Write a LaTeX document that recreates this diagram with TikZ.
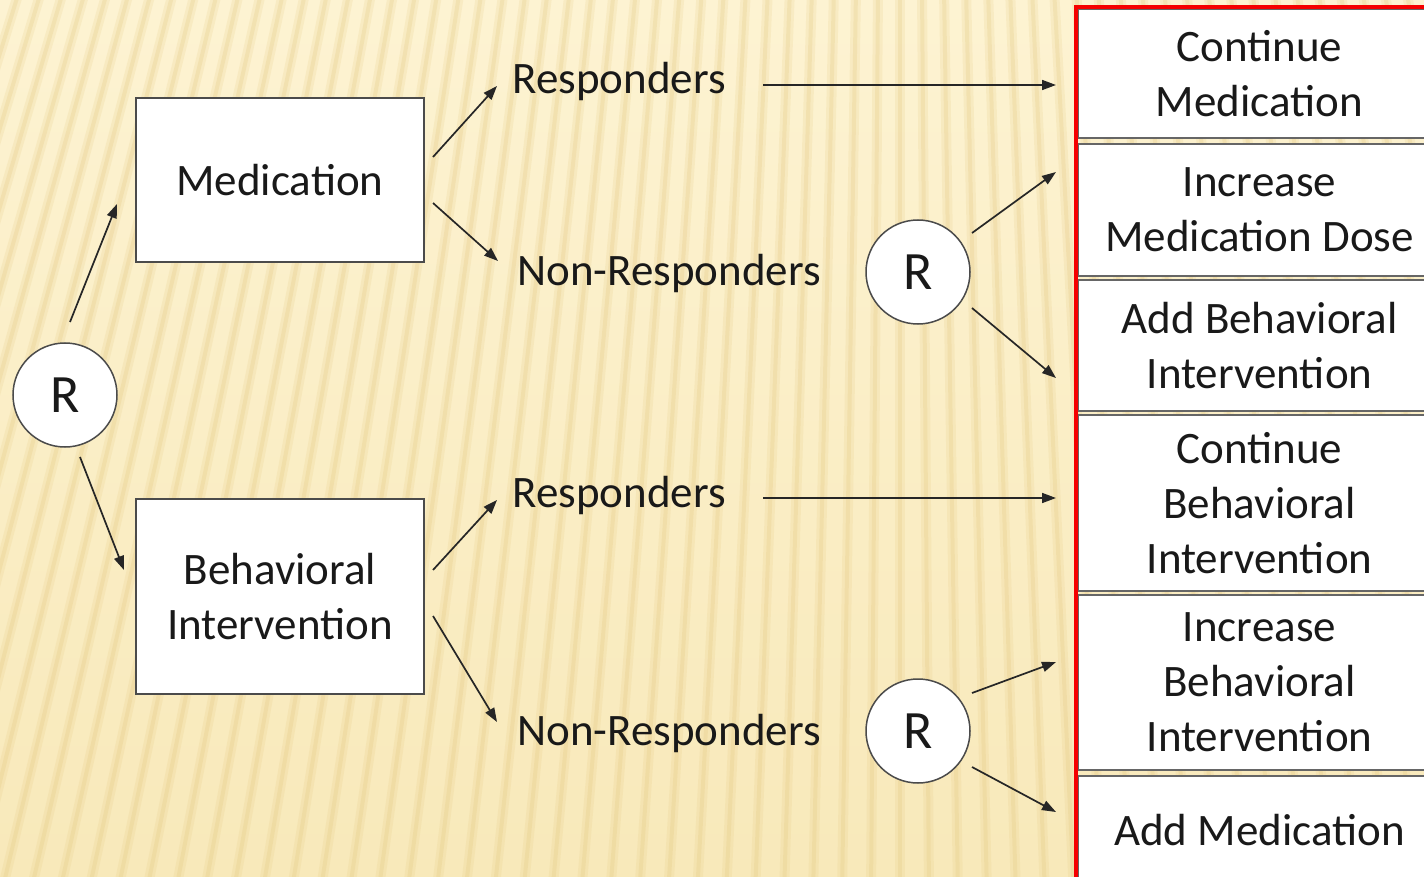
\documentclass[tikz,border=0pt]{standalone}
\usepackage{fontspec}
\setmainfont{Carlito}
\usetikzlibrary{arrows.meta}
\definecolor{bgtop}{RGB}{253,243,210}
\definecolor{bgbot}{RGB}{248,233,186}
\definecolor{stripe}{RGB}{228,200,128}
\definecolor{boxline}{RGB}{75,75,75}
\definecolor{txt}{RGB}{25,25,25}
\definecolor{selred}{RGB}{245,0,0}
\begin{document}
\begin{tikzpicture}[x=1pt,y=-1pt,
  lbl/.style={font=\fontsize{45}{55}\selectfont, text=txt, align=center, inner sep=0pt},
  lbox/.style={draw=boxline, line width=2pt, fill=white, lbl},
  rbox/.style={draw=boxline!85, line width=2pt, fill=white, lbl, minimum width=363pt, anchor=north west},
  rnode/.style={circle, draw=boxline, line width=1.5pt, fill=white, minimum size=104pt, lbl, font=\fontsize{54}{60}\selectfont},
  arr/.style={-{Triangle[length=14pt,width=10pt]}, line width=1.7pt, draw=black!85}]
\useasboundingbox (0,0) rectangle (1424,877);
% background
\begin{scope}
\clip (0,0) rectangle (1424,877);
\shade[top color=bgtop,bottom color=bgbot] (0,0) rectangle (1424,877);
\foreach \x in {-400,-375,...,1500} {
  \pgfmathsetmacro\xa{900+(\x-900)*0.8774}
  \pgfmathsetmacro\xb{900+(\x-900)*1.1677}
  \draw[stripe, line width=10pt, opacity=0.18] (\xa,-20) -- (\xb,920);
  \draw[stripe, line width=4pt, opacity=0.25] (\xa,-20) -- (\xb,920);
}
\end{scope}

% left part
\node[rnode] (r0) at (65,395) {R};
\node[lbox, minimum width=288pt, minimum height=164pt] (med) at (280,180) {Medication};
\node[lbox, minimum width=288pt, minimum height=195pt] (beh) at (280,596.5) {Behavioral\\Intervention};

\node[lbl] (resp1) at (619,82) {Responders};
\node[lbl] (nonr1) at (669,274) {Non-Responders};
\node[lbl] (resp2) at (619,496) {Responders};
\node[lbl] (nonr2) at (669,733) {Non-Responders};

\node[rnode] (r1) at (918,272) {R};
\node[rnode] (r2) at (918,731) {R};

% right column
\node[rbox, minimum height=129pt] (c1) at (1077,8) {Continue\\Medication};
\node[rbox, minimum height=132pt] (c2) at (1077,143) {Increase\\Medication Dose};
\node[rbox, minimum height=131pt] (c3) at (1077,279) {Add Behavioral\\Intervention};
\node[rbox, minimum height=176pt] (c4) at (1077,414) {Continue\\Behavioral\\Intervention};
\node[rbox, minimum height=175pt] (c5) at (1077,594) {Increase\\Behavioral\\Intervention};
\node[rbox, minimum height=108pt] (c6) at (1077,775) {Add Medication};
\draw[selred, line width=3.5pt] (1076,890) -- (1076,7) -- (1440,7);

% arrow end points
\coordinate (p1) at (70,322);   \coordinate (q1) at (117,204);
\coordinate (p2) at (80,457);   \coordinate (q2) at (124,570);
\coordinate (p3) at (433,157);  \coordinate (q3) at (497,86);
\coordinate (p4) at (433,203);  \coordinate (q4) at (498,261);
\coordinate (p5) at (433,570);  \coordinate (q5) at (497,500);
\coordinate (p6) at (433,616);  \coordinate (q6) at (497,722);
\coordinate (p7) at (763,85);   \coordinate (q7) at (1056,85);
\coordinate (p8) at (763,498);  \coordinate (q8) at (1056,498);
\coordinate (p9) at (972,233);  \coordinate (q9) at (1056,172);
\coordinate (p10) at (972,308); \coordinate (q10) at (1056,378);
\coordinate (p11) at (972,693); \coordinate (q11) at (1056,662);
\coordinate (p12) at (972,767); \coordinate (q12) at (1056,812);

\foreach \i in {1,...,12} {\draw[arr] (p\i) -- (q\i);}
\end{tikzpicture}
\end{document}
